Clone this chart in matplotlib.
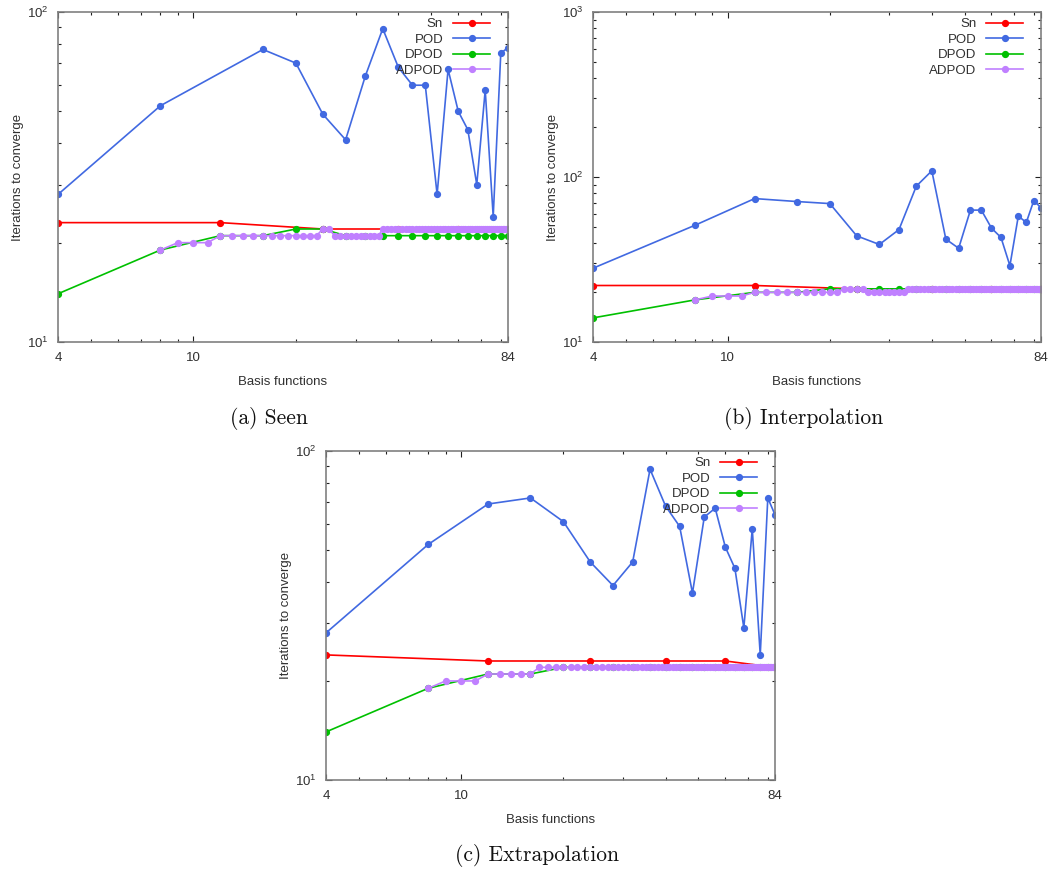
import matplotlib
matplotlib.use("Agg")
import matplotlib.pyplot as plt
from matplotlib.ticker import FixedLocator, FixedFormatter, NullFormatter

plt.rcParams['font.family'] = ['Liberation Sans', 'DejaVu Sans']
plt.rcParams['font.size'] = 9.5
plt.rcParams['text.color'] = '#303030'
plt.rcParams['axes.labelcolor'] = '#303030'
plt.rcParams['xtick.color'] = '#202020'
plt.rcParams['ytick.color'] = '#202020'
plt.rcParams['xtick.labelcolor'] = '#303030'
plt.rcParams['ytick.labelcolor'] = '#303030'

# ---- data ----
sn_x = [4, 12, 24, 40, 60, 84]
pod_x_seen = [4, 8, 16, 20, 24, 28, 32, 36, 40, 44, 48, 52, 56, 60, 64, 68, 72, 76, 80, 84]
pod_x = [4, 8, 12, 16, 20, 24, 28, 32, 36, 40, 44, 48, 52, 56, 60, 64, 68, 72, 76, 80, 84]
dpod_x = [4, 8, 12, 16, 20, 24, 28, 32, 36, 40, 44, 48, 52, 56, 60, 64, 68, 72, 76, 80, 84]
adpod_x = list(range(8, 85))

# (a) Seen
sn_seen = [23, 23, 22, 22, 22, 22]
pod_seen = [28, 52, 77, 70, 49, 41, 64, 89, 68, 60, 60, 28, 67, 50, 44, 30, 58, 24, 75, 78]
dpod_seen = [14, 19, 21, 21, 22, 22, 21, 21, 21, 21, 21, 21, 21, 21, 21, 21, 21, 21, 21, 21, 21]
adpod_seen = [19, 20, 20, 20,
              21, 21, 21, 21, 21, 21, 21, 21, 21, 21, 21, 21,
              22, 22,
              21, 21, 21, 21, 21, 21, 21, 21, 21, 21,
              22, 22, 22, 22, 22, 22, 22, 22, 22, 22, 22, 22, 22, 22, 22, 22, 22,
              22, 22, 22, 22, 22, 22, 22, 22, 22, 22, 22, 22, 22, 22, 22, 22, 22,
              22, 22, 22, 22, 22, 22, 22, 22, 22, 22, 22, 22, 22, 22, 22]

# (b) Interpolation
sn_interp = [22, 22, 21, 21, 21, 21]
pod_interp = [28, 51, 74, 71, 69, 44, 39, 48, 88, 109, 42, 37, 63, 63, 49, 43, 29, 58, 53, 72, 65]
dpod_interp = [14, 18, 20, 20, 21, 21, 21, 21, 21, 21, 21, 21, 21, 21, 21, 21, 21, 21, 21, 21, 21]
adpod_interp = [18, 19, 19, 19,
                20, 20, 20, 20, 20, 20, 20, 20, 20, 20,
                21, 21, 21, 21,
                20, 20, 20, 20, 20, 20, 20, 20,
                21, 21, 21, 21, 21, 21, 21, 21, 21, 21, 21, 21, 21, 21, 21, 21, 21,
                21, 21, 21, 21, 21, 21, 21, 21, 21, 21, 21, 21, 21, 21, 21, 21, 21,
                21, 21, 21, 21, 21, 21, 21, 21, 21, 21, 21, 21, 21, 21, 21, 21, 21]

# (c) Extrapolation
sn_extrap = [24, 23, 23, 23, 23, 22]
pod_extrap = [28, 52, 69, 72, 61, 46, 39, 46, 88, 68, 59, 37, 63, 67, 51, 44, 29, 58, 24, 72, 64]
dpod_extrap = [14, 19, 21, 21, 22, 22, 22, 22, 22, 22, 22, 22, 22, 22, 22, 22, 22, 22, 22, 22, 22]
adpod_extrap = [19, 20, 20, 20,
                21, 21, 21, 21, 21,
                22, 22, 22, 22, 22, 22, 22, 22, 22, 22, 22, 22, 22, 22, 22, 22, 22,
                22, 22, 22, 22, 22, 22, 22, 22, 22, 22, 22, 22, 22, 22, 22, 22, 22,
                22, 22, 22, 22, 22, 22, 22, 22, 22, 22, 22, 22, 22, 22, 22, 22, 22,
                22, 22, 22, 22, 22, 22, 22, 22, 22, 22, 22, 22, 22, 22, 22, 22, 22]

x_ticks = [4, 10, 84]
x_minor = [5, 6, 7, 8, 9, 20, 30, 40, 50, 60, 70, 80]
y_minor = [20, 30, 40, 50, 60, 70, 80, 90, 200, 300, 400, 500, 600, 700, 800, 900]

colors = {'Sn': '#ff0000', 'POD': '#4169e1', 'DPOD': '#00c000', 'ADPOD': '#c080ff'}

W, H = 1055, 872
fig = plt.figure(figsize=(W / 100, H / 100), dpi=100)


def make_axes(l, t, r, b):
    return fig.add_axes([l / W, 1 - b / H, (r - l) / W, (b - t) / H])


def draw(ax, pod_xs, sn, pod, dpod, adpod, ymax):
    lw, ms = 1.2, 4.2
    ax.plot(sn_x, sn, '-o', color=colors['Sn'], lw=lw, ms=ms, label='Sn')
    ax.plot(pod_xs, pod, '-o', color=colors['POD'], lw=lw, ms=ms, label='POD')
    ax.plot(dpod_x, dpod, '-o', color=colors['DPOD'], lw=lw, ms=ms, label='DPOD')
    ax.plot(adpod_x, adpod, '-o', color=colors['ADPOD'], lw=lw, ms=ms, label='ADPOD')
    ax.set_xscale('log')
    ax.set_yscale('log')
    ax.set_xlim(4, 84)
    ax.set_ylim(10, ymax)
    ax.xaxis.set_major_locator(FixedLocator(x_ticks))
    ax.xaxis.set_major_formatter(FixedFormatter([str(v) for v in x_ticks]))
    ax.xaxis.set_minor_locator(FixedLocator(x_minor))
    ax.xaxis.set_minor_formatter(NullFormatter())
    decades = [10, 100] if ymax == 100 else [10, 100, 1000]
    ax.yaxis.set_major_locator(FixedLocator(decades))
    ax.yaxis.set_major_formatter(FixedFormatter(
        [r'$\mathregular{10^{%d}}$' % len(str(d)[1:]) for d in decades]))
    ax.yaxis.set_minor_locator(FixedLocator([v for v in y_minor if v < ymax]))
    ax.yaxis.set_minor_formatter(NullFormatter())
    ax.tick_params(which='both', direction='in', top=True, right=True, width=0.8)
    ax.tick_params(which='major', length=4, pad=7)
    ax.tick_params(which='minor', length=2.2)
    for s in ax.spines.values():
        s.set_color('#808080')
        s.set_linewidth(1.2)
    ax.set_xlabel('Basis functions', labelpad=9)
    ax.set_ylabel('Iterations to converge', labelpad=2)
    ax.legend(loc='upper right', bbox_to_anchor=(0.96, 0.982), frameon=False,
              markerfirst=False, borderpad=0, borderaxespad=0,
              handlelength=2.8, handletextpad=0.75, labelspacing=0.25)


ax_a = make_axes(58, 12, 508, 342)
draw(ax_a, pod_x_seen, sn_seen, pod_seen, dpod_seen, adpod_seen, 100)
ax_b = make_axes(593, 12, 1041, 342)
draw(ax_b, pod_x, sn_interp, pod_interp, dpod_interp, adpod_interp, 1000)
ax_c = make_axes(326, 451, 775, 780)
draw(ax_c, pod_x, sn_extrap, pod_extrap, dpod_extrap, adpod_extrap, 100)

cap = dict(ha='center', va='center', family='cmr10', size=15.5, color='#111111')
fig.text(268.5 / W, 1 - 418 / H, '(a) Seen', **cap)
fig.text(804 / W, 1 - 418 / H, '(b) Interpolation', **cap)
fig.text(537 / W, 1 - 855 / H, '(c) Extrapolation', **cap)

fig.savefig('out.png', dpi=100)
